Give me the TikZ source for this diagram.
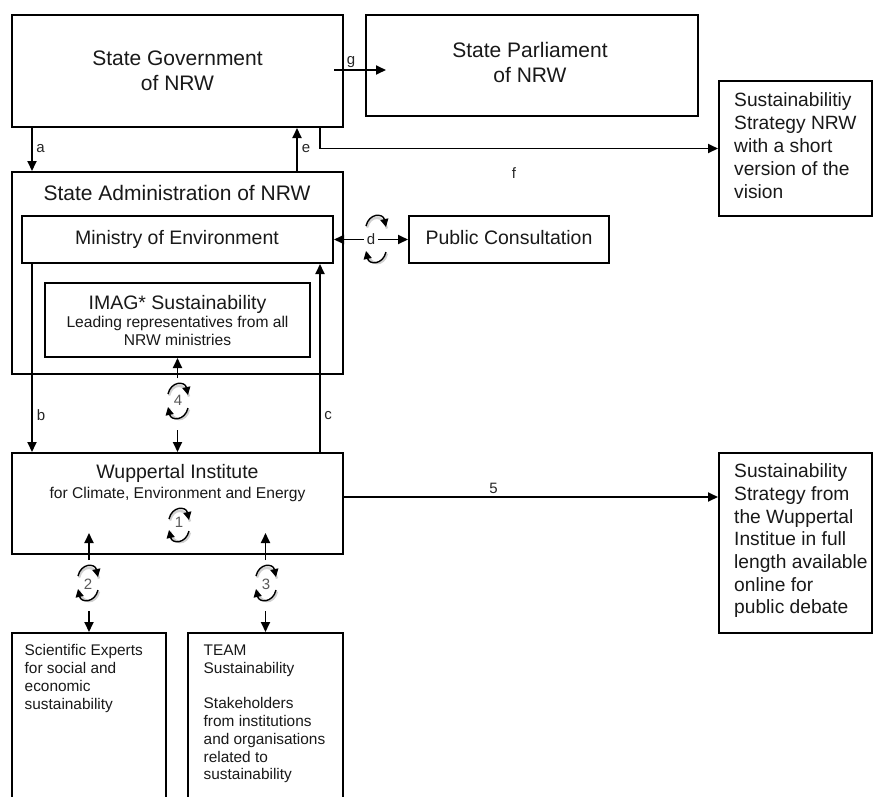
\documentclass[tikz,border=0pt]{standalone}
\usepackage{fontspec}
\setmainfont{Liberation Sans}
\usetikzlibrary{arrows.meta}
\newcommand\fsz[2]{\fontsize{#1pt}{#2pt}\selectfont}
\newcommand\cycsym[3]{%
  \draw[cycshadow] (#1-9,#2-#3+1.5) .. controls (#1-6,#2-#3-11.5) and (#1+8,#2-#3-11.5) .. (#1+11,#2-#3+2.5);
  \draw[cycshadow] (#1+11,#2+#3+1.5) .. controls (#1+8,#2+#3+14.5) and (#1-6,#2+#3+14.5) .. (#1-9,#2+#3+0.5);
  \draw[cyc] (#1-10,#2-#3) .. controls (#1-7,#2-#3-13) and (#1+7,#2-#3-13) .. (#1+10,#2-#3+1);
  \draw[cyc] (#1+10,#2+#3) .. controls (#1+7,#2+#3+13) and (#1-7,#2+#3+13) .. (#1-10,#2+#3-1);}
\begin{document}
\begin{tikzpicture}[x=1pt,y=-1pt,
  box/.style={draw, line width=2pt, inner sep=0pt},
  txt/.style={inner sep=0pt, text=black!90},
  one/.style={txt, text depth=0pt},
  lbl/.style={inner sep=0pt, text depth=0pt, text=black!85, font=\fsz{15}{17}},
  num/.style={inner sep=0pt, text depth=0pt, text=black!65, font=\fsz{15}{17}},
  arr/.style={line width=1.8pt, -{Triangle[length=10pt,width=9pt]}},
  arrtwo/.style={line width=1.8pt, {Triangle[length=10pt,width=9pt]}-{Triangle[length=10pt,width=9pt]}},
  cyc/.style={line width=1.4pt, -{Triangle[length=8pt,width=8pt]}},
  cycshadow/.style={line width=2.4pt, black!18}]
\useasboundingbox (0,0) rectangle (873,796);
\fill[white] (0,0) rectangle (873,796);

% boxes
\node[box, minimum width=331pt, minimum height=112pt] (gov) at (177.5,71) {};
\node[box, minimum width=332pt, minimum height=101pt] (parl) at (532,65.5) {};
\node[box, minimum width=153pt, minimum height=135pt] (sus1) at (795.5,148.5) {};
\node[box, minimum width=331pt, minimum height=202pt] (adm) at (177.5,273) {};
\node[box, minimum width=311pt, minimum height=47pt] (min) at (177.5,239.5) {};
\node[box, minimum width=200pt, minimum height=47pt] (pub) at (509,239.5) {};
\node[box, minimum width=265pt, minimum height=74pt] (imag) at (177.5,320) {};
\node[box, minimum width=331pt, minimum height=101pt] (wup) at (177.5,503.5) {};
\node[box, minimum width=153pt, minimum height=180pt] (sus2) at (795.5,543) {};
\node[box, minimum width=154pt, minimum height=200pt] (sci) at (89,733) {};
\node[box, minimum width=155pt, minimum height=200pt] (team) at (265.5,733) {};

% texts
\node[txt, align=center, font=\fsz{21}{25}] (tgov) at (177.5,70.5) {State Government\\of NRW};
\node[txt, align=center, font=\fsz{21}{25}] (tparl) at (530,62.5) {State Parliament\\of NRW};
\node[one, font=\fsz{21}{25}] (tadm) at (177,193) {State Administration of NRW};
\node[one, font=\fsz{19.5}{22}] (tmin) at (177,237) {Ministry of Environment};
\node[one, font=\fsz{19.5}{22}] (tpub) at (509,237) {Public Consultation};
\node[one, font=\fsz{19.5}{22}] (timag) at (177.5,302) {IMAG* Sustainability};
\node[txt, align=center, font=\fsz{15.6}{18}] (timagb) at (177.5,331) {Leading representatives from all\\NRW ministries};
\node[one, font=\fsz{19.5}{22}] (twup) at (177.5,471) {Wuppertal Institute};
\node[one, font=\fsz{15.6}{18}] (twupb) at (177.5,493) {for Climate, Environment and Energy};
\node[txt, align=left, anchor=north west, font=\fsz{19.2}{23}] (tsus1) at (734,92) {Sustainabilitiy\\Strategy NRW\\with a short\\version of the\\vision};
\node[txt, align=left, anchor=north west, font=\fsz{19.2}{22.7}] (tsus2) at (734,463.5) {Sustainability\\Strategy from\\the Wuppertal\\Institue in full\\length available\\online for\\public debate};
\node[txt, align=left, anchor=north west, font=\fsz{15.4}{17.8}] (tsci) at (24.5,644.5) {Scientific Experts\\for social and\\economic\\sustainability};
\node[txt, align=left, anchor=north west, font=\fsz{15.4}{17.8}] (tteam) at (203.5,644.5) {TEAM\\Sustainability\\[17.8pt]Stakeholders\\from institutions\\and organisations\\related to\\sustainability};

% connectors
\draw[arr] ([xshift=21pt]gov.south west) -- ([xshift=21pt]adm.north west);
\node[lbl] (la) at (40.5,148) {a};
\draw[arr] ([xshift=286pt]adm.north west) -- ([xshift=286pt]gov.south west);
\node[lbl] (le) at (306,148) {e};
\draw[arr] ([xshift=309pt]gov.south west) |- (sus1.west);
\node[lbl] (lf) at (514,173) {f};
\draw[arr] ([xshift=-10pt,yshift=1pt]gov.east) -- ([xshift=21pt,yshift=1pt]gov.east -| parl.west);
\node[lbl] (lg) at (351,60) {g};
\draw[arr] ([xshift=11pt]min.south west) -- ([xshift=21pt]wup.north west);
\node[lbl] (lb) at (41,415) {b};
\draw[arr] ([xshift=309pt]wup.north west) -- ([xshift=299pt]min.south west);
\node[lbl] (lc) at (328,415) {c};
\draw[arrtwo] (min.east) -- node[lbl, fill=white, inner sep=3pt] (ld) {d} (pub.west);
\cycsym{376}{239}{13}

\draw[arr] ([yshift=6.5pt]wup.east) -- node[lbl, pos=0.4, above=3pt] (l5) {5} ([yshift=6.5pt]wup.east -| sus2.west);

% 4
\coordinate (c4up) at (177.5,378);
\coordinate (c4dn) at (177.5,430);
\draw[arr] (c4up) -- (imag.south);
\draw[arr] (c4dn) -- (wup.north);
\cycsym{178}{401}{7}
\node[num] (n4) at (178,400) {4};

% 1
\cycsym{179}{525}{6}
\node[num] (n1) at (179,522) {1};

% 2
\coordinate (c2up) at (89,560);
\coordinate (c2top) at (89,533);
\coordinate (c2dn) at (89,611);
\draw[arr] (c2up) -- (c2top);
\draw[arr] (c2dn) -- (sci.north);
\cycsym{88}{583}{7}
\node[num] (n2) at (88,584) {2};

% 3
\coordinate (c3up) at (265.5,560);
\coordinate (c3top) at (265.5,533);
\coordinate (c3dn) at (265.5,611);
\draw[arr] (c3up) -- (c3top);
\draw[arr] (c3dn) -- (team.north);
\cycsym{266}{583}{7}
\node[num] (n3) at (266,584) {3};
\end{tikzpicture}
\end{document}
